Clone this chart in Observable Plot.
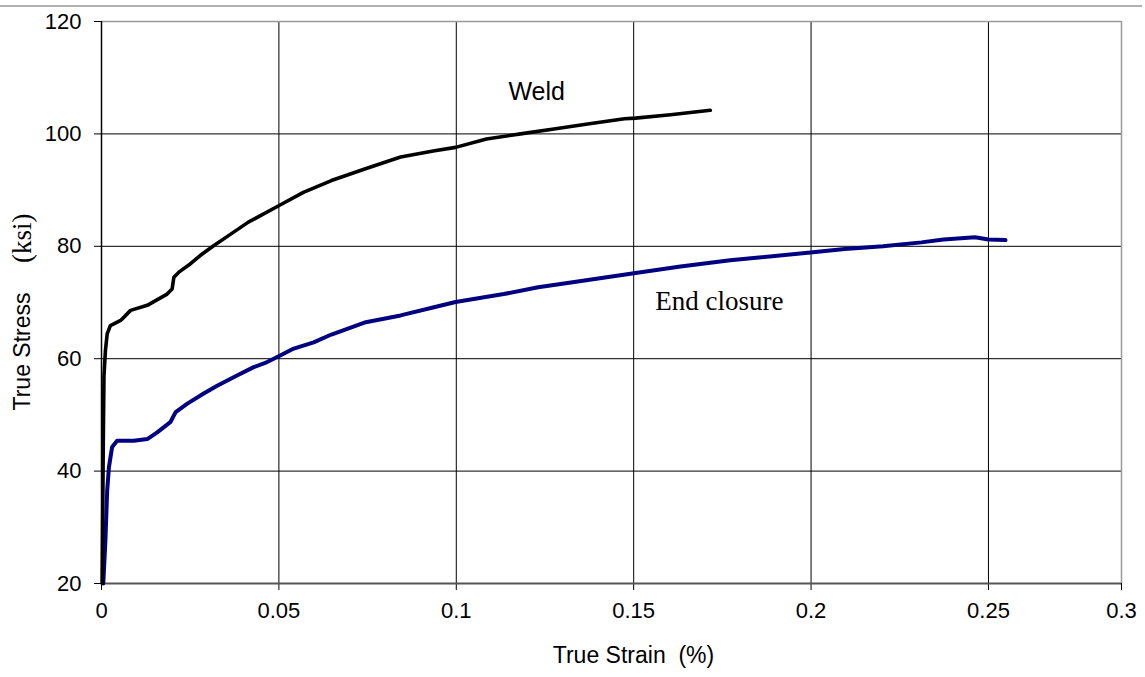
<!DOCTYPE html>
<html>
<head>
<meta charset="utf-8">
<script src="https://cdn.jsdelivr.net/npm/d3@7"></script>
<script src="https://cdn.jsdelivr.net/npm/@observablehq/plot@0.6"></script>
<style>
  html, body { margin: 0; padding: 0; background: #fff; }
  #wrap { position: relative; width: 1145px; height: 677px; overflow: hidden; }
  #topline { position: absolute; left: 0; top: 5px; width: 1142px; height: 2px; background: #b0b0b0; }
  #chart { position: absolute; left: 0; top: 0; }
</style>
</head>
<body>
<div id="wrap"><div id="topline"></div><div id="chart"></div></div>
<script>
// Weld curve (true strain, true stress ksi)
const weldStrain = [0.0002, 0.0005, 0.0007, 0.0011, 0.0016, 0.0025, 0.0054, 0.0082, 0.0129, 0.0185, 0.0199, 0.0204, 0.0218, 0.0251, 0.0279, 0.0316, 0.0358, 0.0414, 0.0502, 0.0569, 0.0648, 0.0744, 0.0843, 0.0939, 0.0998, 0.1085, 0.1181, 0.1280, 0.1375, 0.1474, 0.1505, 0.1604, 0.1716];
const weldStress = [20, 45, 57, 61.4, 64.4, 65.9, 66.8, 68.6, 69.5, 71.5, 72.4, 74.5, 75.4, 76.9, 78.4, 80.1, 81.9, 84.3, 87.3, 89.6, 91.7, 93.8, 95.9, 97.0, 97.6, 99.1, 100.0, 100.9, 101.8, 102.7, 102.8, 103.4, 104.2];

// End closure curve
const endStrain = [0.0005, 0.0011, 0.0016, 0.0021, 0.0030, 0.0044, 0.0091, 0.0129, 0.0157, 0.0194, 0.0209, 0.0242, 0.0288, 0.0326, 0.0382, 0.0429, 0.0467, 0.0505, 0.0542, 0.0598, 0.0648, 0.0745, 0.0843, 0.0940, 0.0998, 0.1134, 0.1231, 0.1328, 0.1491, 0.1632, 0.1772, 0.1998, 0.2095, 0.2203, 0.2311, 0.2373, 0.2462, 0.2500, 0.2564];
const endStress = [20, 27.6, 36.5, 40.7, 44.3, 45.4, 45.4, 45.7, 46.9, 48.7, 50.5, 52.0, 53.8, 55.2, 57.0, 58.5, 59.4, 60.6, 61.8, 62.9, 64.3, 66.5, 67.7, 69.2, 70.1, 71.5, 72.7, 73.6, 75.1, 76.4, 77.5, 78.9, 79.5, 80.0, 80.7, 81.2, 81.6, 81.2, 81.1];

const xTicks = [0, 0.05, 0.1, 0.15, 0.2, 0.25, 0.3];
const yTicks = [20, 40, 60, 80, 100, 120];
const xGrid = [0.05, 0.1, 0.15, 0.2, 0.25];
const yGrid = [40, 60, 80, 100];

const seriesLabels = [
  {name: "Weld", x: 0.1147, y: 107.5},
  {name: "End closure", x: 0.1561, y: 70.2}
];

// The source axis is compressed beyond 0.25 (last interval drawn at 3/4 width)
const warp = v => v <= 0.25 ? v : 0.25 + (v - 0.25) * 0.75;
const unwarp = t => t <= 0.25 ? t : 0.25 + (t - 0.25) / 0.75;

const weld = weldStrain.map((s, i) => ({strain: s, stress: weldStress[i]}));
const endc = endStrain.map((s, i) => ({strain: s, stress: endStress[i]}));

const chart = Plot.plot({
  width: 1145,
  height: 677,
  marginLeft: 101,
  marginRight: 24,
  marginTop: 21,
  marginBottom: 94,
  style: {fontFamily: "'Liberation Sans', Arial, sans-serif", fontSize: "22px", color: "#000", background: "transparent", overflow: "visible"},
  x: {transform: warp, domain: [0, warp(0.3)], ticks: xTicks.map(warp), tickFormat: t => d3.format("~g")(+unwarp(t).toFixed(4)), tickSize: 7, tickPadding: 12, label: null},
  y: {domain: [20, 120], ticks: yTicks, tickSize: 7, tickPadding: 13, label: null},
  marks: [
    Plot.ruleX(xGrid, {stroke: "#000", strokeWidth: 1}),
    Plot.ruleY(yGrid, {stroke: "#000", strokeWidth: 1}),
    Plot.ruleY([120], {stroke: "#9a9a9a", strokeWidth: 1.5}),
    Plot.ruleX([0.3], {stroke: "#9a9a9a", strokeWidth: 1.5}),
    Plot.ruleY([20], {stroke: "#555", strokeWidth: 2}),
    Plot.ruleX([0], {stroke: "#000", strokeWidth: 1.5}),
    Plot.line(endc, {x: "strain", y: "stress", stroke: "#000080", strokeWidth: 4}),
    Plot.line(weld, {x: "strain", y: "stress", stroke: "#000", strokeWidth: 3.6}),
    Plot.text(seriesLabels.slice(0, 1), {x: "x", y: "y", text: "name", textAnchor: "start", fontSize: 25, fontFamily: "'Liberation Sans', Arial, sans-serif", fill: "#000"}),
    Plot.text(seriesLabels.slice(1), {x: "x", y: "y", text: "name", textAnchor: "start", fontSize: 27, fontFamily: "'Liberation Serif', 'Times New Roman', serif", fill: "#000"}),
    Plot.text(["True Strain  (%)"], {frameAnchor: "bottom", dx: 22, dy: 79, text: d => d, fontSize: 23, fontFamily: "'Liberation Sans', Arial, sans-serif", fill: "#000"}),
    Plot.text(["True Stress"], {frameAnchor: "left", dx: -79, dy: 108, rotate: -90, textAnchor: "start", text: d => d, fontSize: 23, fontFamily: "'Liberation Sans', Arial, sans-serif", fill: "#000"}),
    Plot.text(["(ksi)"], {frameAnchor: "left", dx: -79, dy: -89, rotate: -90, textAnchor: "end", text: d => d, fontSize: 27, fontFamily: "'Liberation Serif', 'Times New Roman', serif", fill: "#000"})
  ]
});
document.getElementById("chart").appendChild(chart);
</script>
</body>
</html>
